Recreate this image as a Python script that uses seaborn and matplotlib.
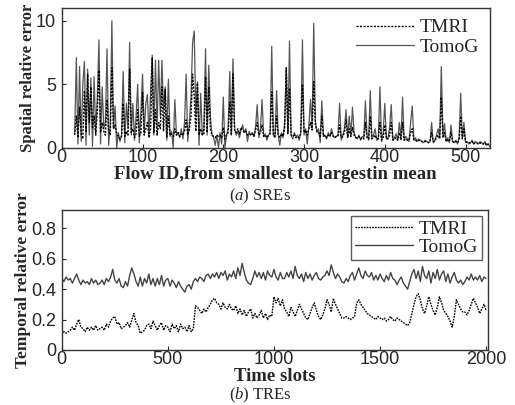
import matplotlib
matplotlib.use("Agg")
import matplotlib.pyplot as plt
import numpy as np
import pandas as pd
import seaborn as sns

# (a) spatial relative error per flow, flows 16..530 step 2
FLOW_START, FLOW_STEP = 16, 2
SRE_TOMOG = [
    1.2, 7.1, 0.3, 6.4, 0.5, 5.0, 6.8, 0.2, 6.2, 1.0,
    5.5, 0.1, 5.6, 1.2, 4.0, 8.5, 0.3, 4.8, 1.5, 2.0,
    7.8, 0.2, 1.8, 10.0, 1.5, 3.3, 0.0, 1.2, 0.5, 1.0,
    6.0, 0.4, 3.5, 1.5, 8.3, 1.0, 3.5, 0.6, 2.5, 5.0,
    0.4, 3.0, 5.8, 1.2, 3.5, 4.2, 0.8, 4.5, 7.3, 1.0,
    6.9, 1.5, 6.9, 2.5, 6.9, 3.0, 4.8, 0.6, 5.4, 0.9,
    1.3, 0.0, 3.8, 1.0, 1.2, 0.8, 1.5, 0.7, 2.0, 5.8,
    0.5, 2.0, 4.0, 8.3, 9.2, 2.5, 5.2, 0.2, 4.3, 1.0,
    1.5, 7.8, 1.0, 6.5, 2.5, 1.0, 0.8, 0.2, 1.0, 0.0,
    1.2, 0.3, 4.0, 0.0, 1.0, 1.5, 6.0, 1.0, 7.0, 1.5,
    1.0, 1.3, 0.8, 1.4, 1.8, 1.2, 1.5, 0.5, 1.3, 1.0,
    1.2, 0.9, 1.7, 3.4, 0.8, 1.5, 3.8, 0.9, 1.1, 0.6,
    1.0, 1.2, 8.0, 1.0, 0.8, 4.5, 1.0, 0.2, 1.2, 0.8,
    2.0, 6.3, 1.2, 8.4, 1.0, 0.7, 1.2, 0.9, 1.0, 0.6,
    1.3, 8.5, 1.0, 1.5, 0.3, 1.8, 3.8, 1.5, 9.8, 2.2,
    1.2, 1.5, 0.4, 3.7, 0.9, 1.0, 0.7, 1.2, 0.9, 1.5,
    1.0, 0.8, 0.9, 1.0, 3.5, 0.6, 1.0, 1.5, 3.0, 0.8,
    2.5, 1.0, 3.2, 1.2, 0.8, 0.7, 1.0, 0.6, 0.9, 0.8,
    3.7, 1.0, 0.6, 4.5, 0.8, 1.0, 1.5, 0.6, 0.8, 4.8,
    0.5, 1.2, 3.5, 0.7, 0.8, 1.6, 3.4, 0.6, 0.8, 1.1,
    0.6, 2.0, 0.7, 4.0, 0.6, 0.9, 0.7, 0.5, 2.0, 3.3,
    0.6, 0.8, 0.5, 0.7, 0.6, 0.5, 0.4, 0.6, 0.5, 0.4,
    0.5, 2.0, 0.4, 0.6, 1.0, 1.5, 0.8, 6.4, 1.0, 1.9,
    0.5, 0.8, 0.4, 1.8, 0.5, 0.4, 0.6, 0.3, 0.8, 4.3,
    0.8, 2.0, 0.4, 0.5, 0.3, 0.4, 0.6, 0.3, 0.5, 0.4,
    0.3, 0.5, 0.4, 0.3, 0.5, 0.2, 0.3, 0.1,
]
SRE_TMRI = [
    1.0, 2.5, 0.8, 3.2, 1.1, 0.7, 4.5, 1.2, 5.8, 2.0,
    4.8, 1.5, 2.5, 1.0, 3.0, 6.1, 1.2, 2.0, 1.3, 1.0,
    3.8, 1.4, 1.0, 6.3, 1.5, 1.8, 1.1, 0.9, 0.7, 0.9,
    3.5, 0.9, 1.3, 1.0, 6.2, 1.2, 1.5, 0.8, 1.1, 3.0,
    0.9, 1.2, 4.4, 1.0, 1.5, 2.0, 0.9, 1.5, 7.1, 1.2,
    3.0, 1.0, 2.0, 1.5, 4.8, 1.3, 4.6, 0.8, 2.5, 1.0,
    1.1, 0.9, 1.5, 1.0, 1.2, 0.9, 1.1, 1.0, 1.3, 2.2,
    1.0, 1.5, 2.5, 5.8, 4.0, 1.3, 5.1, 1.0, 1.5, 1.0,
    1.1, 5.6, 1.2, 4.8, 1.5, 1.0, 0.9, 0.8, 1.0, 0.9,
    1.0, 0.8, 1.6, 0.7, 1.0, 1.2, 3.6, 1.0, 5.8, 1.3,
    1.2, 1.5, 1.1, 1.6, 1.4, 1.2, 1.3, 1.0, 1.1, 1.0,
    1.1, 0.9, 1.4, 2.0, 1.0, 1.2, 1.8, 0.9, 1.0, 0.8,
    1.0, 1.1, 4.4, 1.0, 0.9, 2.5, 1.0, 0.8, 1.1, 0.9,
    1.5, 6.3, 1.1, 4.7, 1.0, 0.9, 1.0, 0.8, 0.9, 0.8,
    1.1, 5.0, 1.2, 1.4, 1.0, 1.5, 2.0, 1.4, 5.2, 1.8,
    1.3, 1.2, 0.9, 2.5, 0.9, 1.0, 0.8, 1.0, 0.9, 1.2,
    0.9, 0.8, 0.9, 0.9, 1.8, 0.8, 0.9, 1.2, 2.2, 0.8,
    1.5, 0.9, 1.6, 1.0, 0.8, 0.8, 0.9, 0.7, 0.8, 0.7,
    2.0, 0.8, 0.7, 2.5, 0.7, 0.8, 1.0, 0.7, 0.7, 2.0,
    0.6, 0.8, 1.8, 0.7, 0.7, 1.0, 2.0, 0.6, 0.7, 0.8,
    0.6, 1.2, 0.6, 2.0, 0.6, 0.7, 0.6, 0.6, 1.2, 1.5,
    0.6, 0.6, 0.5, 0.6, 0.5, 0.5, 0.5, 0.5, 0.5, 0.4,
    0.5, 1.2, 0.5, 0.5, 0.8, 1.0, 0.7, 4.0, 0.8, 1.2,
    0.5, 0.6, 0.5, 1.2, 0.5, 0.4, 0.5, 0.4, 0.6, 2.5,
    0.7, 1.5, 0.5, 0.4, 0.4, 0.4, 0.5, 0.3, 0.4, 0.4,
    0.3, 0.4, 0.3, 0.3, 0.4, 0.2, 0.3, 0.2,
]

# (b) temporal relative error, slots 0..2000 step 10
SLOT_STEP = 10
TRE_TOMOG = [
    0.47, 0.45, 0.48, 0.46, 0.47, 0.44, 0.47, 0.50, 0.46, 0.43,
    0.46, 0.44, 0.45, 0.43, 0.47, 0.44, 0.46, 0.43, 0.44, 0.46,
    0.43, 0.47, 0.45, 0.48, 0.53, 0.46, 0.44, 0.47, 0.42, 0.41,
    0.45, 0.42, 0.49, 0.54, 0.50, 0.45, 0.42, 0.48, 0.42, 0.47,
    0.44, 0.50, 0.43, 0.47, 0.42, 0.47, 0.43, 0.49, 0.42, 0.46,
    0.47, 0.42, 0.46, 0.44, 0.41, 0.45, 0.42, 0.40, 0.38, 0.42,
    0.43, 0.40, 0.45, 0.47, 0.45, 0.48, 0.47, 0.45, 0.49, 0.50,
    0.47, 0.50, 0.48, 0.51, 0.47, 0.51, 0.49, 0.52, 0.46, 0.50,
    0.48, 0.52, 0.47, 0.54, 0.49, 0.57, 0.51, 0.46, 0.44, 0.43,
    0.47, 0.52, 0.48, 0.51, 0.47, 0.51, 0.46, 0.52, 0.49, 0.48,
    0.53, 0.48, 0.46, 0.51, 0.47, 0.47, 0.51, 0.48, 0.52, 0.47,
    0.55, 0.49, 0.47, 0.50, 0.45, 0.51, 0.47, 0.50, 0.46, 0.49,
    0.51, 0.47, 0.46, 0.48, 0.49, 0.52, 0.49, 0.56, 0.51, 0.47,
    0.50, 0.48, 0.45, 0.44, 0.47, 0.45, 0.49, 0.51, 0.46, 0.50,
    0.54, 0.49, 0.47, 0.52, 0.49, 0.48, 0.51, 0.46, 0.49, 0.46,
    0.50, 0.47, 0.45, 0.49, 0.46, 0.51, 0.47, 0.46, 0.43, 0.46,
    0.48, 0.44, 0.42, 0.40, 0.45, 0.50, 0.53, 0.47, 0.52, 0.45,
    0.55, 0.49, 0.47, 0.52, 0.44, 0.51, 0.47, 0.53, 0.46, 0.50,
    0.52, 0.45, 0.50, 0.44, 0.48, 0.51, 0.46, 0.44, 0.46, 0.43,
    0.45, 0.48, 0.46, 0.50, 0.46, 0.48, 0.46, 0.49, 0.45, 0.48,
    0.47,
]
TRE_TMRI = [
    0.10, 0.12, 0.11, 0.12, 0.13, 0.15, 0.13, 0.17, 0.20, 0.15,
    0.14, 0.12, 0.15, 0.13, 0.15, 0.13, 0.16, 0.13, 0.14, 0.15,
    0.13, 0.17, 0.15, 0.19, 0.21, 0.22, 0.17, 0.18, 0.14, 0.15,
    0.16, 0.18, 0.15, 0.20, 0.24, 0.18, 0.16, 0.11, 0.12, 0.13,
    0.16, 0.17, 0.14, 0.19, 0.16, 0.13, 0.16, 0.18, 0.13, 0.16,
    0.15, 0.12, 0.17, 0.14, 0.16, 0.12, 0.17, 0.14, 0.15, 0.12,
    0.16, 0.12, 0.14, 0.29, 0.28, 0.26, 0.24, 0.27, 0.25, 0.28,
    0.30, 0.33, 0.34, 0.31, 0.30, 0.27, 0.31, 0.28, 0.27, 0.30,
    0.27, 0.26, 0.29, 0.24, 0.27, 0.23, 0.26, 0.22, 0.25, 0.27,
    0.21, 0.24, 0.21, 0.23, 0.26, 0.21, 0.24, 0.20, 0.23, 0.22,
    0.35, 0.31, 0.34, 0.29, 0.33, 0.27, 0.25, 0.22, 0.28, 0.25,
    0.22, 0.26, 0.30, 0.27, 0.24, 0.21, 0.20, 0.24, 0.28, 0.31,
    0.26, 0.22, 0.20, 0.23, 0.27, 0.33, 0.30, 0.25, 0.34, 0.30,
    0.27, 0.24, 0.21, 0.21, 0.22, 0.21, 0.20, 0.21, 0.22, 0.31,
    0.33, 0.30, 0.28, 0.26, 0.24, 0.23, 0.22, 0.21, 0.20, 0.22,
    0.21, 0.20, 0.21, 0.19, 0.20, 0.22, 0.20, 0.19, 0.21, 0.20,
    0.19, 0.18, 0.17, 0.16, 0.18, 0.24, 0.30, 0.35, 0.37, 0.33,
    0.27, 0.24, 0.29, 0.35, 0.30, 0.26, 0.23, 0.28, 0.35, 0.31,
    0.26, 0.24, 0.22, 0.19, 0.15, 0.22, 0.33, 0.30, 0.27, 0.25,
    0.25, 0.23, 0.26, 0.30, 0.34, 0.31, 0.28, 0.24, 0.27, 0.30,
    0.26,
]

SERIF = ["Liberation Serif", "DejaVu Serif"]
SANS = ["Liberation Sans", "DejaVu Sans"]


def style_axis(ax):
    for side in ax.spines.values():
        side.set_visible(True)
        side.set_color("#333333")
        side.set_linewidth(1.0)
    ax.tick_params(direction="in", length=3, width=0.8, labelsize=13,
                   top=False, right=False)
    ax.tick_params(axis="x", pad=1)
    ax.tick_params(axis="y", pad=4)
    for lab in ax.get_xticklabels() + ax.get_yticklabels():
        lab.set_family(SANS)


def main():
    sns.set_style("ticks")
    plt.rcParams["font.family"] = SERIF
    plt.rcParams["mathtext.fontset"] = "custom"
    plt.rcParams["mathtext.it"] = "Liberation Serif:italic"
    plt.rcParams["mathtext.rm"] = "Liberation Serif"

    flows = FLOW_START + FLOW_STEP * np.arange(len(SRE_TOMOG))
    sre = pd.DataFrame({"flow": flows, "TomoG": SRE_TOMOG, "TMRI": SRE_TMRI})
    slots = SLOT_STEP * np.arange(len(TRE_TOMOG))
    tre = pd.DataFrame({"slot": slots, "TomoG": TRE_TOMOG, "TMRI": TRE_TMRI})

    fig = plt.figure(figsize=(5.15, 4.05), dpi=100)
    ax1 = fig.add_axes([0.120, 0.635, 0.831, 0.345])
    ax2 = fig.add_axes([0.120, 0.136, 0.828, 0.345])

    sns.lineplot(data=sre, x="flow", y="TomoG", ax=ax1, color="#8c8c8c",
                 linewidth=0.9, estimator=None, label="TomoG")
    sns.lineplot(data=sre, x="flow", y="TMRI", ax=ax1, color="black",
                 linewidth=1.0, linestyle=(0, (1.5, 1)), estimator=None,
                 label="TMRI")
    ax1.set_xlim(0, 530)
    ax1.set_ylim(0, 11)
    ax1.set_xticks([0, 100, 200, 300, 400, 500])
    ax1.set_yticks([0, 5, 10])
    ax1.set_xlabel("Flow ID,from smallest to largestin mean", fontsize=13.5,
                   fontweight="bold", labelpad=0)
    ax1.set_ylabel("Spatial relative error", fontsize=12,
                   fontweight="bold", labelpad=0)
    style_axis(ax1)
    h, l = ax1.get_legend_handles_labels()
    h[0].set_color("#555555")
    ax1.legend(h[::-1], l[::-1], loc="upper right", frameon=False,
               fontsize=14, handlelength=3.0, borderaxespad=0.15,
               labelspacing=0.1, handletextpad=0.3)

    sns.lineplot(data=tre, x="slot", y="TomoG", ax=ax2, color="black",
                 linewidth=1.8, estimator=None, label="TomoG")
    sns.lineplot(data=tre, x="slot", y="TMRI", ax=ax2, color="black",
                 linewidth=1.8, linestyle=(0, (1.2, 0.8)), estimator=None,
                 label="TMRI")
    ax2.set_xlim(0, 2010)
    ax2.set_ylim(0, 0.92)
    ax2.set_xticks([0, 500, 1000, 1500, 2000])
    ax2.set_yticks([0, 0.2, 0.4, 0.6, 0.8])
    ax2.set_yticklabels(["0", "0.2", "0.4", "0.6", "0.8"])
    ax2.set_xlabel("Time slots", fontsize=13.5, fontweight="bold", labelpad=0)
    ax2.set_ylabel("Temporal relative error", fontsize=12.5,
                   fontweight="bold", labelpad=0)
    style_axis(ax2)
    h, l = ax2.get_legend_handles_labels()
    h[0].set_color("#444444")
    h[0].set_linewidth(1.0)
    h[1].set_linewidth(1.0)
    leg = ax2.legend(h[::-1], l[::-1], loc="upper right", frameon=True,
                     fancybox=False, fontsize=14, handlelength=3.0,
                     borderaxespad=0.3, labelspacing=0.05, handletextpad=0.3,
                     borderpad=0.2)
    leg.get_frame().set_edgecolor("#333333")
    leg.get_frame().set_linewidth(1.0)

    fig.text(0.505, 0.514, r"($\mathit{a}$) SREs", ha="center", va="center",
             fontsize=12)
    fig.text(0.505, 0.024, r"($\mathit{b}$) TREs", ha="center", va="center",
             fontsize=12)

    fig.savefig("out.png", dpi=100)


if __name__ == "__main__":
    main()
